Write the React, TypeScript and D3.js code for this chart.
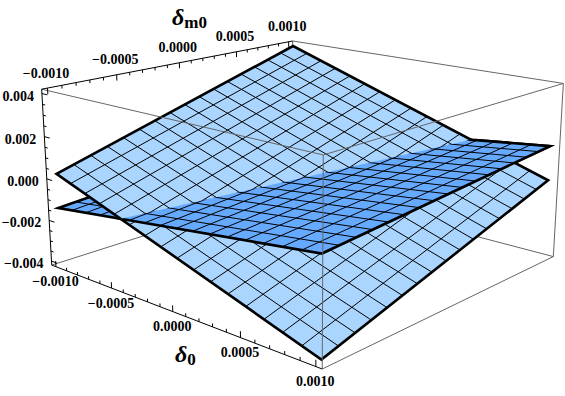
import React from "react";
import * as d3 from "d3";

// Data values
const AXIS_MIN = -0.001;
const AXIS_MAX = 0.001;
const Z_TICKS_MAJOR = [-0.004, -0.002, 0, 0.002, 0.004];
const XY_TICKS_MAJOR = [-0.001, -0.0005, 0, 0.0005, 0.001];
const MESH_CELLS = 16;
const BOX_XY = 0.00104;
const BOX_Z = 0.0042;
// surface heights at corners, [x=-1,y=-1], [x=-1,y=1], [x=1,y=1], [x=1,y=-1]
const LIGHT_CORNERS = [0.000235, 0.004, -0.00041, -0.00402];
const DARK_CORNERS = [-0.00141, -0.00044, 0.00124, 0.00027];

// Camera calibration: the box corners as they appear on the page
const CAMERA_REFS: [number, number, number, number, number][] = [
  [-1, -1, 1, 41.6, 89.3],
  [-1, -1, -1, 51.7, 265],
  [-1, 1, 1, 292.7, 41],
  [1, 1, 1, 563.3, 83.3],
  [1, 1, -1, 553.3, 256.7],
  [1, -1, -1, 322.3, 369],
  [1, -1, 1, 323.3, 155],
];

const LIGHT = "#a9d5ff";
const DARK = "#66aaff";
const GREY = "#666666";
const FONT = "'Liberation Serif', 'Times New Roman', serif";

function fitCamera(): number[] {
  const rows: number[][] = [];
  const rhs: number[] = [];
  CAMERA_REFS.forEach(([a, b, c, u, v]) => {
    rows.push([a, b, c, 1, 0, 0, 0, 0, -u * a, -u * b, -u * c]);
    rhs.push(u);
    rows.push([0, 0, 0, 0, a, b, c, 1, -v * a, -v * b, -v * c]);
    rhs.push(v);
  });
  const n = 11;
  const m: number[][] = d3.range(n).map((i) => [
    ...d3.range(n).map((j) => d3.sum(rows, (r) => r[i] * r[j])),
    d3.sum(rows, (r, k) => r[i] * rhs[k]),
  ]);
  for (let i = 0; i < n; i++) {
    let piv = i;
    for (let r = i + 1; r < n; r++) if (Math.abs(m[r][i]) > Math.abs(m[piv][i])) piv = r;
    [m[i], m[piv]] = [m[piv], m[i]];
    for (let r = 0; r < n; r++) {
      if (r === i) continue;
      const f = m[r][i] / m[i][i];
      for (let c = i; c <= n; c++) m[r][c] -= f * m[i][c];
    }
  }
  return d3.range(n).map((i) => m[i][n] / m[i][i]);
}

const C = fitCamera();
const sx = d3.scaleLinear().domain([-BOX_XY, BOX_XY]).range([-1, 1]);
const sz = d3.scaleLinear().domain([-BOX_Z, BOX_Z]).range([-1, 1]);
type P = [number, number];
function project(x: number, y: number, z: number): P {
  const a = sx(x), b = sx(y), c = sz(z);
  const w = C[8] * a + C[9] * b + C[10] * c + 1;
  return [
    (C[0] * a + C[1] * b + C[2] * c + C[3]) / w,
    (C[4] * a + C[5] * b + C[6] * c + C[7]) / w,
  ];
}

const meshScale = d3.scaleLinear().domain([0, MESH_CELLS]).range([AXIS_MIN, AXIS_MAX]);
const meshVals = d3.range(1, MESH_CELLS).map((i) => meshScale(i));
const unit = d3.scaleLinear().domain([AXIS_MIN, AXIS_MAX]).range([0, 1]);

function height(corners: number[], x: number, y: number) {
  const s = unit(x), t = unit(y);
  return (
    corners[0] * (1 - s) * (1 - t) +
    corners[1] * (1 - s) * t +
    corners[2] * s * t +
    corners[3] * s * (1 - t)
  );
}

const line = d3.line<P>();
const seg = (a: P, b: P) => line([a, b]) as string;

function Surface({ corners, fill }: { corners: number[]; fill: string }) {
  const pt = (x: number, y: number) => project(x, y, height(corners, x, y));
  const outline = [
    pt(AXIS_MIN, AXIS_MIN),
    pt(AXIS_MIN, AXIS_MAX),
    pt(AXIS_MAX, AXIS_MAX),
    pt(AXIS_MAX, AXIS_MIN),
  ];
  return (
    <g>
      <path d={line(outline) + "Z"} fill={fill} stroke="none" />
      {meshVals.map((v, i) => (
        <g key={i} stroke="#000" strokeWidth={1} fill="none">
          <path d={seg(pt(v, AXIS_MIN), pt(v, AXIS_MAX))} />
          <path d={seg(pt(AXIS_MIN, v), pt(AXIS_MAX, v))} />
        </g>
      ))}
      <path d={line(outline) + "Z"} fill="none" stroke="#000" strokeWidth={2.6} strokeLinejoin="miter" />
    </g>
  );
}

// region of the (x,y) domain in which the dark sheet lies above the light one
function darkAboveRegion(): P[] {
  const e = 0.0012;
  const d = ([x, y]: P) => height(DARK_CORNERS, x, y) - height(LIGHT_CORNERS, x, y);
  const quad: P[] = [[-e, -e], [-e, e], [e, e], [e, -e]];
  const out: P[] = [];
  quad.forEach((a, i) => {
    const b = quad[(i + 1) % 4];
    const da = d(a), db = d(b);
    if (da >= 0) out.push(a);
    if (da >= 0 !== db >= 0) {
      const t = da / (da - db);
      out.push([a[0] + (b[0] - a[0]) * t, a[1] + (b[1] - a[1]) * t]);
    }
  });
  return out.map(([x, y]) => project(x, y, height(DARK_CORNERS, x, y)));
}

const B = BOX_XY, Z = BOX_Z;
const minorXY = d3.range(-10, 11).map((i) => i * 0.0001);
const minorZ = d3.range(-8, 9).map((i) => i * 0.0005);
const isMajor = (list: number[], v: number) => list.some((m) => Math.abs(m - v) < 1e-9);
const fmt = (v: number, digits: number) => {
  const s = Math.abs(v).toFixed(digits);
  return (v < -1e-9 ? "\u2212" : "") + s;
};

function Edge({ a, b, color = GREY, w = 1 }: { a: P; b: P; color?: string; w?: number }) {
  return <path d={seg(a, b)} stroke={color} strokeWidth={w} fill="none" />;
}

export default function App() {
  const clip = darkAboveRegion();
  return (
    <svg
      width={565}
      height={396}
      viewBox="0 0 565 396"
      style={{ position: "absolute", left: 0, top: 0, display: "block", background: "#fff" }}
    >
      <defs>
        <clipPath id="darkAbove">
          <path d={line(clip) + "Z"} />
        </clipPath>
      </defs>

      {/* rear box edges */}
      <Edge a={project(-B, B, Z)} b={project(-B, B, -Z)} />
      <Edge a={project(-B, B, -Z)} b={project(-B, -B, -Z)} />
      <Edge a={project(-B, B, -Z)} b={project(B, B, -Z)} />

      <Surface corners={DARK_CORNERS} fill={DARK} />
      <Surface corners={LIGHT_CORNERS} fill={LIGHT} />
      <g clipPath="url(#darkAbove)">
        <Surface corners={DARK_CORNERS} fill={DARK} />
      </g>

      {/* front box edges */}
      <Edge a={project(-B, -B, Z)} b={project(B, -B, Z)} />
      <Edge a={project(B, B, Z)} b={project(B, -B, Z)} />
      <Edge a={project(-B, B, Z)} b={project(B, B, Z)} />
      <Edge a={project(B, -B, Z)} b={project(B, -B, -Z)} />
      <Edge a={project(B, B, Z)} b={project(B, B, -Z)} />
      <Edge a={project(B, -B, -Z)} b={project(B, B, -Z)} />

      {/* axes */}
      <Edge a={project(-B, -B, Z)} b={project(-B, -B, -Z)} color="#000" />
      <Edge a={project(-B, -B, Z)} b={project(-B, B, Z)} color="#000" />
      <Edge a={project(-B, -B, -Z)} b={project(B, -B, -Z)} color="#000" />

      {minorXY.map((v, i) => {
        const len = isMajor(XY_TICKS_MAJOR, v) ? 0.00028 : 0.00015;
        return (
          <g key={i}>
            <Edge a={project(-B, v, Z)} b={project(-B, v, Z - len)} color="#000" />
            <Edge a={project(v, -B, -Z)} b={project(v, -B, -Z + len)} color="#000" />
          </g>
        );
      })}
      {minorZ.map((v, i) => {
        const len = isMajor(Z_TICKS_MAJOR, v) ? 0.00005 : 0.000025;
        return <Edge key={i} a={project(-B, -B, v)} b={project(-B + len, -B, v)} color="#000" />;
      })}

      <g fontFamily={FONT} fontWeight="bold" fontSize={14} fill="#000">
        {XY_TICKS_MAJOR.map((v) => {
          const p = project(-B, v, Z);
          return (
            <text key={v} x={p[0] - 1.5} y={p[1] - 15} textAnchor="middle" dominantBaseline="central">
              {fmt(v, 4)}
            </text>
          );
        })}
        {XY_TICKS_MAJOR.map((v) => {
          const p = project(v, -B, -Z);
          return (
            <text key={v} x={p[0] - 0.5} y={p[1] + 15} textAnchor="middle" dominantBaseline="central">
              {fmt(v, 4)}
            </text>
          );
        })}
        {Z_TICKS_MAJOR.map((v) => {
          const p = project(-B, -B, v);
          return (
            <text key={v} x={p[0] - 8} y={p[1] + 2.5} textAnchor="end" dominantBaseline="central">
              {fmt(v, 3)}
            </text>
          );
        })}
      </g>

      <g fontFamily={FONT} fontWeight="bold" fill="#000">
        <text x={172} y={25} fontSize={24} fontStyle="italic">
          δ
          <tspan fontSize={17} fontStyle="normal" dy={3}>m0</tspan>
        </text>
        <text x={175} y={362} fontSize={24} fontStyle="italic">
          δ
          <tspan fontSize={17} fontStyle="normal" dy={3}>0</tspan>
        </text>
      </g>
    </svg>
  );
}
